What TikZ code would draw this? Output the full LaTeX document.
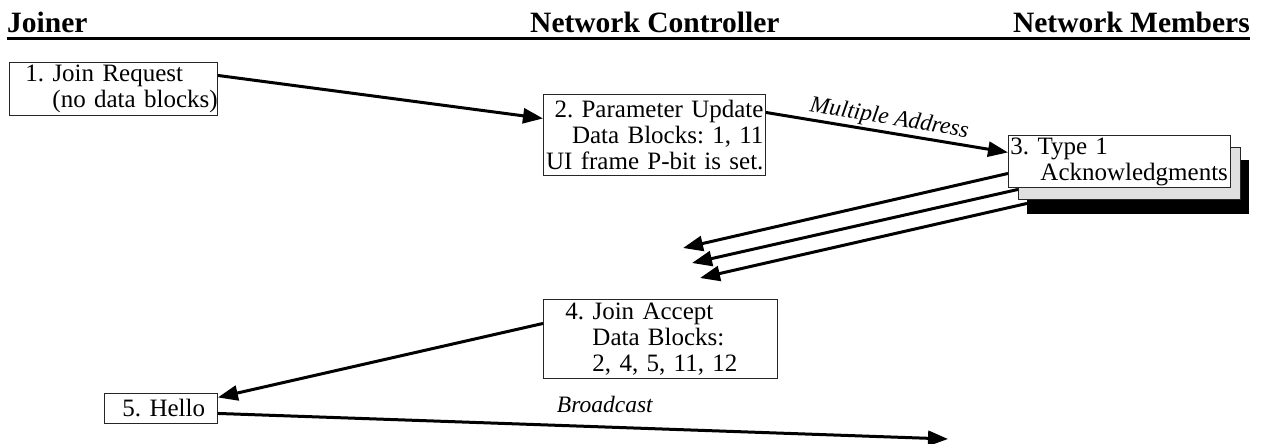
\documentclass[tikz,border=0pt]{standalone}
\usepackage{fontspec}
\setmainfont{Liberation Serif}
\frenchspacing
\usetikzlibrary{arrows.meta}
\begin{document}
\frenchspacing
\begin{tikzpicture}[x=1pt,y=-1pt,
  box/.style={draw=black!85, line width=0.9pt, fill=white, anchor=north west,
    inner xsep=2pt, inner ysep=0pt, font=\fontsize{25}{26}\selectfont\frenchspacing},
  arr/.style={line width=3pt, -{Triangle[length=20pt,width=15pt]}},
  hdr/.style={font=\fontsize{29.5}{30}\selectfont\bfseries, inner sep=0pt},
  lbl/.style={font=\fontsize{23.5}{24}\selectfont\itshape, inner sep=0pt}]

\useasboundingbox (0,0) rectangle (1262,444);

% header
\node[hdr, anchor=base west] (hj) at (7,33) {Joiner};
\node[hdr, anchor=base west] (hc) at (530,33) {Network Controller};
\node[hdr, anchor=base east] (hm) at (1250,33) {Network Members};
\draw[line width=3pt] (7,39) -- (1250,39);

% boxes
\node[box, minimum width=208pt, minimum height=53pt, text width=204pt, align=left] (b1) at (9,62)
  {\mbox{\hspace*{14pt}1. Join Request}\\\mbox{\hspace*{41pt}(no data blocks)}};
\node[box, minimum width=222pt, minimum height=81pt, text width=218pt, align=right] (b2) at (543,94)
  {\mbox{2. Parameter Update}\\\mbox{Data Blocks: 1, 11}\\\mbox{UI frame P-bit is set.}};
\node[box, draw=black, fill=black, minimum width=221pt, minimum height=53pt] (b3k) at (1027,160) {};
\node[box, fill=black!12, minimum width=222pt, minimum height=52pt] (b3g) at (1018,147) {};
\node[box, minimum width=222pt, minimum height=52pt, text width=218pt, align=left] (b3) at (1008,135)
  {\mbox{3. Type 1}\\\mbox{\hspace*{30pt}Acknowledgments}};
\node[box, minimum width=234pt, minimum height=79pt, text width=230pt, align=left] (b4) at (543,299)
  {\mbox{\hspace*{20pt}4. Join Accept}\\\mbox{\hspace*{47pt}Data Blocks:}\\\mbox{\hspace*{47pt}2, 4, 5, 11, 12}};
\node[box, minimum width=113pt, minimum height=30pt, text width=109pt, align=left] (b5) at (104,393)
  {\mbox{\hspace*{16pt}5. Hello}};

% free ends
\coordinate (t1) at (683,248);
\coordinate (t2) at (692,263);
\coordinate (t3) at (700,278);
\coordinate (t5) at (948,439);

% connectors
\draw[arr] ([yshift=13.5pt]b1.east) -- ([yshift=16.5pt]b2.west);
\draw[arr] ([yshift=22.5pt]b2.east) -- node[lbl, sloped, above=1.5pt, pos=0.5] {Multiple Address} ([yshift=9pt]b3.west);
\draw[arr] ([yshift=-12pt]b3.west) -- (t1);
\draw[arr] ([yshift=-16pt]b3g.west) -- (t2);
\draw[arr] ([yshift=-16.5pt]b3k.west) -- (t3);
\draw[arr] ([yshift=15.5pt]b4.west) -- ([yshift=11pt]b5.east);
\draw[arr] ([yshift=-5pt]b5.east) -- node[lbl, above=13pt, pos=0.53] {Broadcast} (t5);
\end{tikzpicture}
\end{document}
